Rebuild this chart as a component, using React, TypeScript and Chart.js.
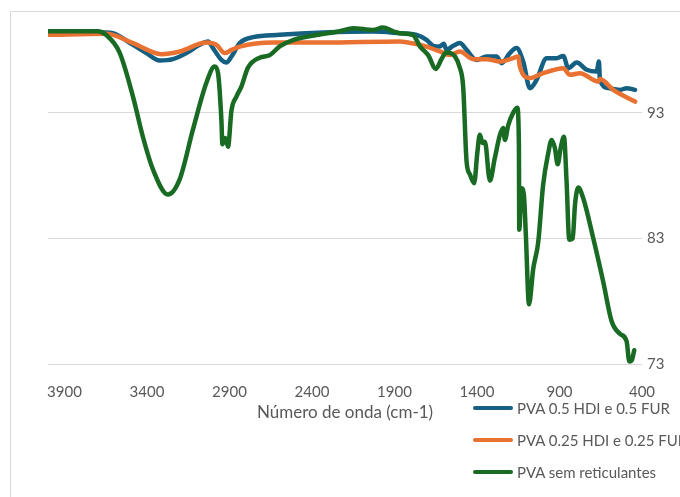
import React, { useEffect, useRef } from "react";
import { Chart, registerables } from "chart.js";
Chart.register(...registerables);

const xTicks = [3900, 3400, 2900, 2400, 1900, 1400, 900, 400];
const yTicks = [73, 83, 93];
const xTitle = "Número de onda (cm-1)";

const seriesNames = ["PVA 0.5 HDI e 0.5 FUR", "PVA 0.25 HDI e 0.25 FUR", "PVA sem reticulantes"];
const seriesColors = ["#156082", "#E97132", "#196B24"];

const blueWn = [4000, 3647, 3607, 3485, 3404, 3323, 3243, 3161, 3081, 3030, 3000, 2949, 2919, 2888, 2838, 2757, 2596, 2333, 2030, 1868, 1766, 1706, 1666, 1629, 1601, 1585, 1544, 1504, 1463, 1403, 1342, 1281, 1251, 1201, 1160, 1120, 1079, 1039, 978, 917, 877, 847, 796, 735, 675, 661, 655, 604, 533, 493, 442];
const blueT = [99.4, 99.4, 99.35, 98.42, 97.76, 97.17, 97.28, 97.76, 98.42, 98.68, 98.16, 97.22, 97.01, 97.49, 98.56, 99.03, 99.22, 99.4, 99.48, 99.35, 99.22, 98.82, 98.34, 98.28, 98.5, 98.02, 98.34, 98.56, 98.02, 97.22, 97.49, 97.49, 96.96, 97.76, 98.16, 97.09, 94.97, 95.63, 97.36, 97.36, 97.54, 96.56, 97.01, 96.43, 96.29, 97.09, 95.63, 94.97, 94.83, 94.97, 94.83];

const orangeWn = [4000, 3647, 3485, 3313, 3202, 3040, 2979, 2929, 2888, 2838, 2636, 2333, 1868, 1777, 1706, 1625, 1564, 1504, 1423, 1342, 1261, 1181, 1150, 1140, 1079, 999, 917, 877, 837, 776, 665, 655, 574, 442];
const orangeT = [99.22, 99.3, 98.56, 97.68, 97.89, 98.6, 98.42, 97.76, 98.02, 98.28, 98.6, 98.6, 98.68, 98.5, 98.28, 97.89, 97.62, 97.89, 97.28, 97.28, 97.09, 97.36, 97.49, 96.69, 95.77, 96.16, 96.48, 96.56, 96.03, 96.16, 95.49, 95.69, 94.83, 93.9];

const greenWn = [4000, 3700, 3647, 3566, 3485, 3425, 3364, 3273, 3202, 3121, 3040, 2990, 2970, 2949, 2943, 2925, 2909, 2888, 2858, 2828, 2788, 2717, 2656, 2596, 2515, 2373, 2232, 2151, 2030, 1970, 1908, 1868, 1787, 1746, 1696, 1649, 1615, 1585, 1534, 1504, 1484, 1463, 1443, 1417, 1399, 1383, 1366, 1352, 1322, 1292, 1261, 1241, 1231, 1211, 1181, 1156, 1146, 1144, 1130, 1116, 1104, 1085, 1059, 1029, 999, 968, 948, 928, 911, 893, 873, 857, 841, 820, 806, 786, 756, 695, 635, 584, 533, 493, 477, 462, 447];
const greenT = [99.5, 99.5, 99.2, 97.8, 94.3, 91.1, 88.5, 86.5, 87.7, 91.7, 95.4, 96.7, 96.2, 92.4, 90.5, 91.0, 90.3, 93.2, 94.3, 95.1, 96.6, 97.4, 97.6, 98.3, 98.8, 99.2, 99.5, 99.75, 99.6, 99.8, 99.5, 99.35, 99.2, 98.3, 97.6, 96.5, 97.3, 97.8, 97.5, 96.6, 95.1, 89.1, 88.1, 87.4, 89.7, 91.25, 90.6, 90.7, 87.6, 89.4, 91.25, 91.8, 90.85, 92.0, 93.0, 93.4, 90.45, 83.7, 87.0, 86.5, 83.3, 77.75, 80.6, 82.7, 87.3, 89.8, 90.85, 90.2, 88.9, 90.2, 91.1, 87.5, 82.9, 83.0, 85.7, 87.05, 86.2, 83.0, 79.55, 76.4, 75.4, 74.8, 73.2, 73.3, 74.1];

const FONT = "Lato, 'Open Sans', sans-serif";
const TEXT = "#595959";

function toPoints(wn: number[], t: number[]) {
  return wn.map((x, i) => ({ x, y: t[i] }));
}

export default function App() {
  const ref = useRef<HTMLCanvasElement>(null);
  useEffect(() => {
    const chart = new Chart(ref.current as HTMLCanvasElement, {
      type: "line",
      data: {
        datasets: [
          { label: seriesNames[0], data: toPoints(blueWn, blueT), borderColor: seriesColors[0], backgroundColor: seriesColors[0], order: 3 },
          { label: seriesNames[1], data: toPoints(orangeWn, orangeT), borderColor: seriesColors[1], backgroundColor: seriesColors[1], order: 2 },
          { label: seriesNames[2], data: toPoints(greenWn, greenT), borderColor: seriesColors[2], backgroundColor: seriesColors[2], order: 1 },
        ],
      },
      options: {
        animation: false,
        responsive: false,
        maintainAspectRatio: false,
        layout: { padding: { left: 48, top: 25, right: 0, bottom: 74 } },
        plugins: { legend: { display: false }, tooltip: { enabled: false } },
        elements: {
          point: { radius: 0 },
          line: { borderWidth: 4.5, cubicInterpolationMode: "monotone", borderCapStyle: "round", borderJoinStyle: "round", fill: false },
        },
        scales: {
          x: {
            type: "linear",
            reverse: true,
            min: 400,
            max: 4000,
            grid: { display: false },
            border: { display: false },
            afterBuildTicks: (s: any) => { s.ticks = xTicks.map((v) => ({ value: v })); },
            afterFit: (s: any) => { s.height = 59; },
            ticks: { color: TEXT, font: { family: FONT, size: 15 }, padding: 11, maxRotation: 0, autoSkip: false, callback: (v: any) => String(v) },
            title: { display: true, text: xTitle, color: TEXT, font: { family: FONT, size: 17 }, padding: 0 },
          },
          y: {
            position: "right",
            min: 73,
            max: 100,
            grid: { color: "#d9d9d9", lineWidth: 1, drawTicks: false },
            border: { display: false },
            afterBuildTicks: (s: any) => { s.ticks = yTicks.map((v) => ({ value: v })); },
            afterFit: (s: any) => { s.width = 38; },
            ticks: { color: TEXT, font: { family: FONT, size: 15 }, padding: 5, callback: (v: any) => String(v) },
          },
        },
      },
    });
    return () => chart.destroy();
  }, []);

  const rowY = [408, 440, 472];
  return (
    <div style={{ position: "fixed", left: 0, top: 0, width: 680, height: 497, overflow: "hidden", background: "#fff" }}>
      <div style={{ position: "absolute", left: 10, top: 11, width: 740, height: 560, border: "1px solid #d9d9d9", boxSizing: "border-box" }} />
      <canvas ref={ref} width={680} height={497} style={{ position: "absolute", left: 0, top: 0, width: 680, height: 497 }} />
      {seriesNames.map((name, i) => (
        <div key={name} style={{ position: "absolute", left: 473, top: rowY[i] - 10, height: 20, display: "flex", alignItems: "center", whiteSpace: "nowrap" }}>
          <span style={{ display: "inline-block", width: 40, height: 4, borderRadius: 2, background: seriesColors[i], marginRight: 4 }} />
          <span style={{ fontFamily: FONT, fontSize: 15, color: TEXT, lineHeight: "20px" }}>{name}</span>
        </div>
      ))}
    </div>
  );
}
